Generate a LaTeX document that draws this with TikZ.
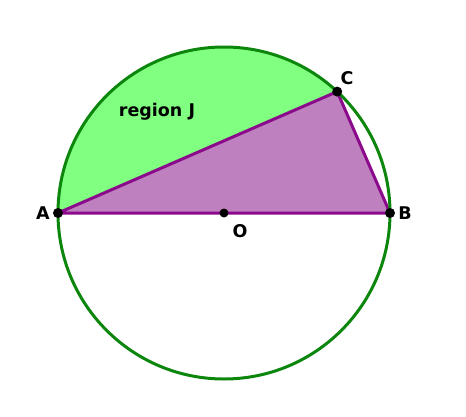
\documentclass[tikz,border=0pt]{standalone}
\usepackage{fontspec}
\setmainfont{DejaVu Sans}
\usetikzlibrary{positioning}
\definecolor{ringgreen}{HTML}{0C860C}
\definecolor{segfill}{HTML}{80FF80}
\definecolor{tripurple}{HTML}{8B0A8B}
\definecolor{trifill}{HTML}{BF80BF}

\begin{document}
\begin{tikzpicture}[
  x=1pt, y=1pt,
  dot/.style={circle, fill=black, inner sep=0pt, minimum size=10pt},
  lbl/.style={font=\fontsize{17.5}{20}\selectfont\bfseries, inner sep=0pt},
  ring/.style={ringgreen, line width=3pt},
  side/.style={tripurple, line width=3pt, line join=round},
]
  \useasboundingbox (-224,-203) rectangle (242,213);

  % Points on the circle
  \coordinate (O) at (0,0);
  \coordinate (A) at (180:166);
  \coordinate (B) at (0:166);
  \coordinate (C) at (47:166);

  % Region J and the triangle
  \fill[segfill] (A) arc[start angle=180, end angle=47, radius=166] -- cycle;
  \filldraw[side, fill=trifill] (A) -- (B) -- (C) -- cycle;
  \draw[ring] (O) circle[radius=166];

  % Points
  \node[dot] (a) at (A) {};
  \node[dot] (b) at (B) {};
  \node[dot] (c) at (C) {};
  \node[dot, minimum size=9pt] (o) at (O) {};

  % Labels
  \node[lbl] at (-181,0) {A};
  \node[lbl] at (181,0) {B};
  \node[lbl] at (123,135) {C};
  \node[lbl] at (16,-18) {O};
  \node[lbl] at (-67,101) {region J};
\end{tikzpicture}
\end{document}
